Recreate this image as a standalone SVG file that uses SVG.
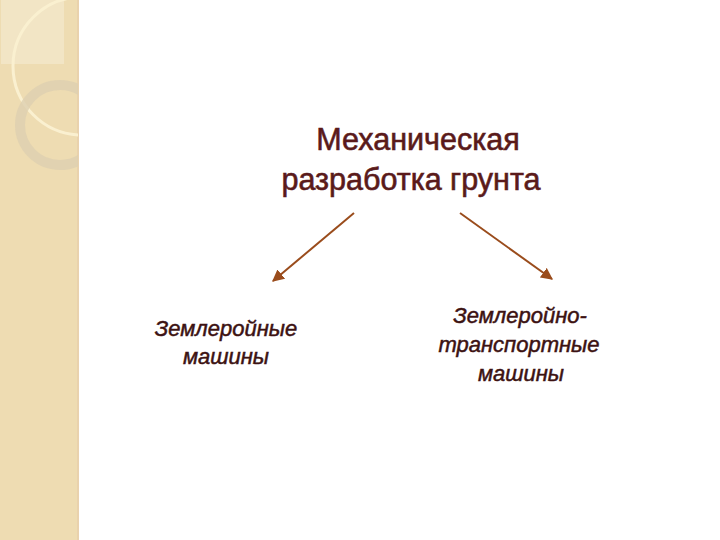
<svg xmlns="http://www.w3.org/2000/svg" width="720" height="540" viewBox="0 0 720 540">
<style>
.title{font-family:"Liberation Sans",Arial,sans-serif;font-size:30.5px;fill:#5a1a1a;stroke:#5a1a1a;stroke-width:0.6;text-anchor:middle}
.node{font-family:"Liberation Sans",Arial,sans-serif;font-size:22px;font-style:italic;fill:#3c1212;stroke:#3c1212;stroke-width:0.5;text-anchor:middle}
.conn{stroke:#9a4c1c;stroke-width:2;fill:none}
</style>
<defs>
<marker id="ah" viewBox="0 0 10 10" refX="9" refY="5" markerWidth="6" markerHeight="6" orient="auto">
<path d="M0,0 L10,5 L0,10 z" fill="#9a4c1c"/>
</marker>
<clipPath id="strip"><rect x="0" y="0" width="78" height="540"/></clipPath>
</defs>
<rect width="720" height="540" fill="#ffffff"/>
<g id="background">
<rect x="0" y="0" width="78" height="540" fill="#eedcb2"/>
<rect x="77" y="0" width="2" height="540" fill="#e9d2ad"/>
<g clip-path="url(#strip)">
<rect x="1" y="0" width="63" height="64" fill="#f2e5c5"/>
<circle cx="82" cy="66" r="69" fill="none" stroke="#faf0d0" stroke-width="3"/>
<circle cx="60" cy="125" r="40" fill="none" stroke="#ddd0b0" stroke-width="10" opacity="0.8"/>
</g>
</g>
<g id="title">
<text class="title" x="418" y="150">Механическая</text>
<text class="title" x="411" y="190">разработка грунта</text>
</g>
<g id="left">
<text class="node" x="226" y="336">Землеройные</text>
<text class="node" x="226" y="364">машины</text>
</g>
<g id="right">
<text class="node" x="520" y="323">Землеройно-</text>
<text class="node" x="519" y="352">транспортные</text>
<text class="node" x="521" y="381">машины</text>
</g>
<g id="connectors">
<line class="conn" x1="354" y1="213" x2="273" y2="281" marker-end="url(#ah)"/>
<line class="conn" x1="460" y1="213" x2="552" y2="279" marker-end="url(#ah)"/>
</g>
</svg>
